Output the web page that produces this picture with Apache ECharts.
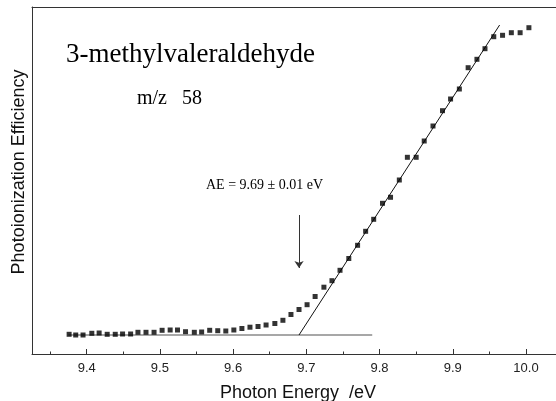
<!DOCTYPE html>
<html>
<head>
<meta charset="utf-8">
<script src="https://cdn.jsdelivr.net/npm/echarts@6/dist/echarts.min.js"></script>
<style>
html,body{margin:0;padding:0;background:#fff;}
#chart{width:556px;height:401px;}
</style>
</head>
<body>
<div id="chart"></div>
<script>
// Photon energy (eV) of each measured point
const energy = [9.376,9.385,9.395,9.407,9.417,9.428,9.439,9.449,9.460,9.470,
  9.481,9.492,9.503,9.514,9.524,9.535,9.547,9.557,9.568,9.579,
  9.590,9.601,9.612,9.623,9.634,9.645,9.657,9.668,9.679,9.690,
  9.701,9.712,9.724,9.735,9.746,9.758,9.770,9.781,9.792,9.804,
  9.815,9.827,9.838,9.850,9.861,9.873,9.886,9.897,9.909,9.921,
  9.933,9.944,9.956,9.968,9.980,9.992,10.004];
// Photoionization efficiency (arbitrary units)
const efficiency = [19.7,19.0,19.0,20.7,21.0,19.7,19.7,20.0,20.0,21.7,
  21.7,21.7,23.7,24.0,24.0,22.3,21.7,22.0,23.7,23.3,
  23.0,24.0,25.5,26.8,27.5,29.0,30.5,33.7,39.5,44.5,
  49.3,57.5,66.8,73.3,83.7,95.5,108.7,122.7,134.7,150.7,
  156.7,174.0,196.7,196.7,213.0,228.0,243.3,255.0,265.0,286.3,
  294.7,305.3,317.3,318.7,321.3,321.3,326.3];
// Linear fit of the onset region
const fitX = [9.69, 9.964];
const fitY = [19, 329];
// Background level line
const baseX = [9.375, 9.79];
const baseY = [19, 19];
// Appearance energy arrow (x, from y, to y)
const aeEnergy = 9.69;
const arrowY = [139, 86];
// Tick labels
const majorTicks = [9.4, 9.5, 9.6, 9.7, 9.8, 9.9, 10.0];
const minorTicks = [9.35, 9.45, 9.55, 9.65, 9.75, 9.85, 9.95];

const chart = echarts.init(document.getElementById('chart'), null, {renderer: 'canvas'});
const xMin = 9.3253, xMax = 10.041;
const axisColor = '#333';
const sans = 'Liberation Sans, Arial, sans-serif';
const serif = 'Liberation Serif, Times New Roman, serif';

const option = {
  backgroundColor: '#fff',
  animation: false,
  grid: {left: 32, right: 0, top: 7, bottom: 47},
  xAxis: [
    {
      type: 'value', min: xMin, max: xMax, position: 'bottom',
      axisLine: {onZero: false, lineStyle: {color: axisColor, width: 1}},
      axisTick: {inside: true, length: 5, customValues: majorTicks, lineStyle: {color: axisColor}},
      axisLabel: {customValues: majorTicks, formatter: v => v.toFixed(1), fontFamily: sans, fontSize: 13, color: '#222', margin: 8},
      splitLine: {show: false}
    },
    {
      type: 'value', min: xMin, max: xMax, position: 'bottom',
      axisLine: {show: false, onZero: false},
      axisTick: {inside: true, length: 2.5, customValues: minorTicks, lineStyle: {color: axisColor}},
      axisLabel: {show: false},
      splitLine: {show: false}
    },
    {
      type: 'value', min: xMin, max: xMax, position: 'top',
      axisLine: {onZero: false, lineStyle: {color: axisColor, width: 1}},
      axisTick: {show: false}, axisLabel: {show: false}, splitLine: {show: false}
    }
  ],
  yAxis: {
    type: 'value', min: 0, max: 347,
    axisLine: {show: true, onZero: false, lineStyle: {color: axisColor, width: 1}},
    axisTick: {show: false}, axisLabel: {show: false}, splitLine: {show: false}
  },
  series: [
    {
      type: 'line', name: 'baseline',
      data: baseX.map((x, i) => [x, baseY[i]]),
      showSymbol: false, symbol: 'none',
      lineStyle: {color: '#8a8a8a', width: 1.5},
      z: 1,
      markLine: {
        silent: true, symbol: ['none', 'arrow'], symbolSize: 7,
        label: {show: false},
        lineStyle: {color: '#333', width: 1, type: 'solid'},
        data: [[{coord: [aeEnergy, arrowY[0]]}, {coord: [aeEnergy, arrowY[1]]}]]
      }
    },
    {
      type: 'line', name: 'fit',
      data: fitX.map((x, i) => [x, fitY[i]]),
      symbol: 'none',
      lineStyle: {color: '#111', width: 1},
      z: 2
    },
    {
      type: 'scatter', name: 'data',
      data: energy.map((x, i) => [x, efficiency[i]]),
      symbol: 'rect', symbolSize: 5,
      itemStyle: {color: '#000'},
      z: 3
    }
  ],
  graphic: [
    {type: 'text', left: 66, top: 41, style: {text: '3-methylvaleraldehyde', font: '27px ' + serif, fill: '#000'}},
    {type: 'text', left: 137, top: 89, style: {text: 'm/z   58', font: '20px ' + serif, fill: '#000'}},
    {type: 'text', left: 206, top: 178, style: {text: 'AE = 9.69 \u00b1 0.01 eV', font: '14px ' + serif, fill: '#000'}},
    {type: 'text', x: 19, y: 172, rotation: Math.PI / 2, style: {text: 'Photoionization Efficiency', font: '18px ' + sans, fill: '#111', align: 'center', verticalAlign: 'middle'}},
    {type: 'text', x: 298, y: 393, style: {text: 'Photon Energy  /eV', font: '18px ' + sans, fill: '#111', align: 'center', verticalAlign: 'middle'}}
  ]
};
chart.setOption(option);
</script>
</body>
</html>
